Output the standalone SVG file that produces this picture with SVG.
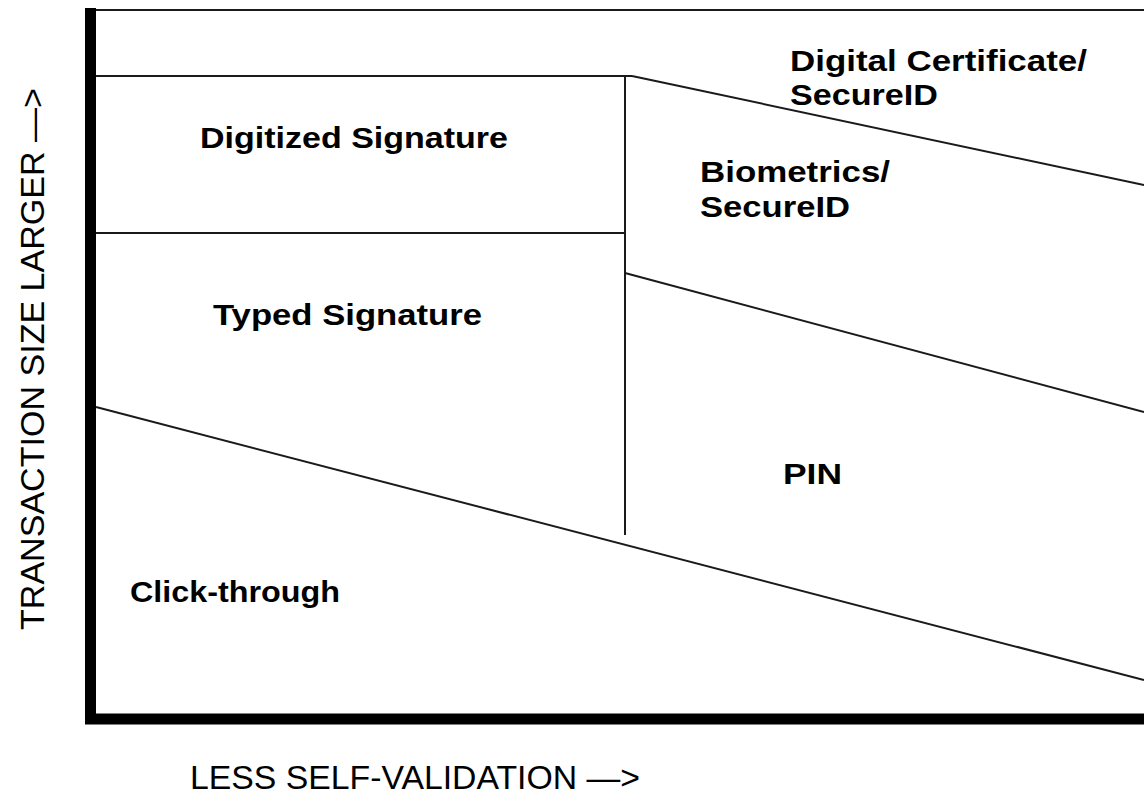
<svg xmlns="http://www.w3.org/2000/svg" width="1144" height="797" viewBox="0 0 1144 797">
<style>
.ln{stroke:#1a1a1a;stroke-width:2;fill:none}
.lb{font-family:"Liberation Sans",Arial,sans-serif;font-weight:bold;font-size:29px;fill:#000}
.ax{font-family:"Liberation Sans",Arial,sans-serif;font-size:33px;fill:#000}
</style>
<rect width="1144" height="797" fill="#fff"/>
<g id="connectors">
<line class="ln" x1="96" y1="10" x2="1144" y2="10"/>
<line class="ln" x1="96" y1="76" x2="632" y2="76"/>
<line class="ln" x1="632" y1="76" x2="1144" y2="185"/>
<line class="ln" x1="625" y1="76" x2="625" y2="535"/>
<line class="ln" x1="96" y1="233" x2="625" y2="233"/>
<line class="ln" x1="625" y1="273" x2="1144" y2="412"/>
<line class="ln" x1="96" y1="407" x2="1144" y2="680"/>
</g>
<g id="axes">
<polyline points="90.5,8 90.5,719 1144,719" fill="none" stroke="#000" stroke-width="11" stroke-linejoin="miter"/>
</g>
<g id="digital-certificate"><text class="lb" x="790" y="71" textLength="297" lengthAdjust="spacingAndGlyphs">Digital Certificate/</text><text class="lb" x="790" y="105" textLength="148" lengthAdjust="spacingAndGlyphs">SecureID</text></g>
<g id="digitized-signature"><text class="lb" x="200" y="148" textLength="308" lengthAdjust="spacingAndGlyphs">Digitized Signature</text></g>
<g id="biometrics"><text class="lb" x="700" y="182" textLength="190" lengthAdjust="spacingAndGlyphs">Biometrics/</text><text class="lb" x="700" y="217" textLength="150" lengthAdjust="spacingAndGlyphs">SecureID</text></g>
<g id="typed-signature"><text class="lb" x="213" y="325" textLength="269" lengthAdjust="spacingAndGlyphs">Typed Signature</text></g>
<g id="pin"><text class="lb" x="783" y="484" textLength="59" lengthAdjust="spacingAndGlyphs">PIN</text></g>
<g id="click-through"><text class="lb" x="130" y="602" textLength="210" lengthAdjust="spacingAndGlyphs">Click-through</text></g>
<g id="x-axis-label"><text class="ax" x="190" y="789" textLength="450" lengthAdjust="spacingAndGlyphs">LESS SELF-VALIDATION —&gt;</text></g>
<g id="y-axis-label"><text class="ax" transform="translate(44,630) rotate(-90)" x="0" y="0" textLength="542" lengthAdjust="spacingAndGlyphs">TRANSACTION SIZE LARGER —&gt;</text></g>
</svg>
